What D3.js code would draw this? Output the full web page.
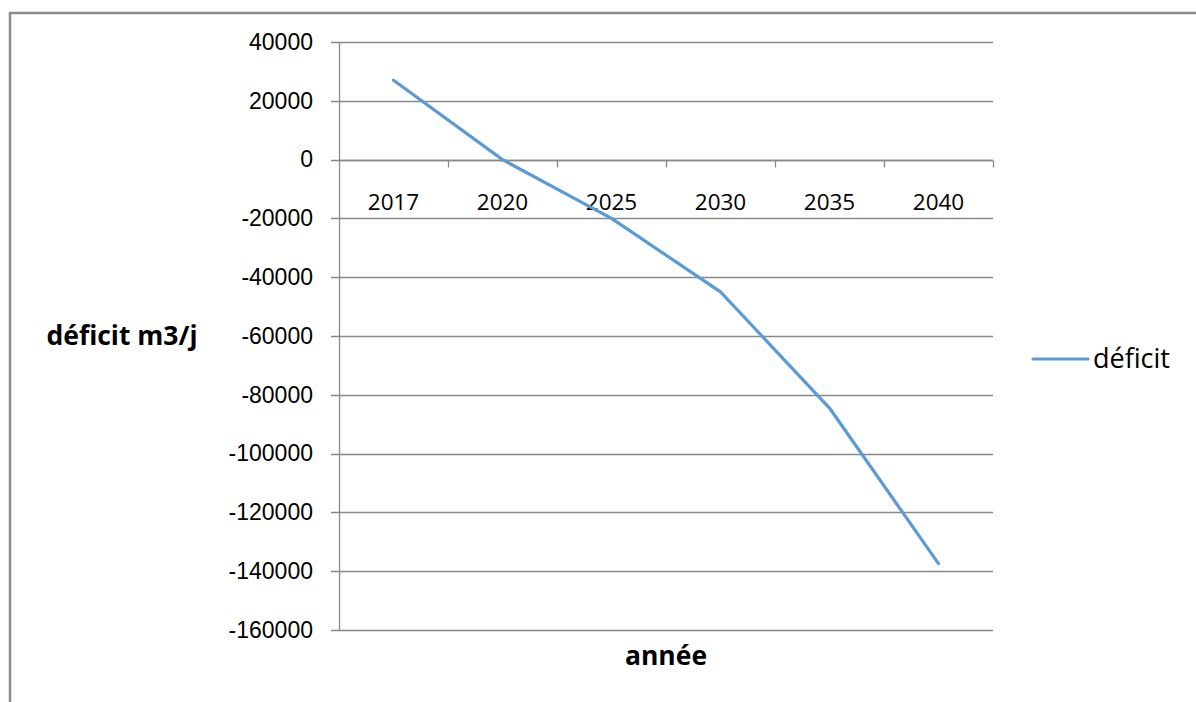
<!DOCTYPE html>
<html>
<head>
<meta charset="utf-8">
<script src="https://cdn.jsdelivr.net/npm/d3@7"></script>
<style>
  body { margin: 0; background: #fff; }
  svg { font-family: "Open Sans", "DejaVu Sans", sans-serif; }
</style>
</head>
<body>
<div id="chart"></div>
<script>
// chart data
const years = ["2017", "2020", "2025", "2030", "2035", "2040"];
const deficit = [27000, 0, -20000, -45000, -84500, -137400];
const yTicks = [40000, 20000, 0, -20000, -40000, -60000, -80000, -100000, -120000, -140000, -160000];
const seriesName = "déficit";

const FRAME_WIDTH = 1196;
const FRAME_HEIGHT = 702;
const MARGINS = {left: 339, right: 203, top: 42, bottom: 72};
const VIS_WIDTH = FRAME_WIDTH - MARGINS.left - MARGINS.right;
const VIS_HEIGHT = FRAME_HEIGHT - MARGINS.top - MARGINS.bottom;

const GRID = "#898989";
const LINE = "#5b9bd5";

const FRAME = d3.select("#chart")
  .append("svg")
    .attr("width", FRAME_WIDTH)
    .attr("height", FRAME_HEIGHT);

// outer chart border (cut off at right and bottom)
FRAME.append("rect")
  .attr("x", 10)
  .attr("y", 13)
  .attr("width", FRAME_WIDTH + 10)
  .attr("height", FRAME_HEIGHT + 10)
  .attr("fill", "none")
  .attr("stroke", "#8c8c8c")
  .attr("stroke-width", 2.5);

const X_SCALE = d3.scaleBand()
  .domain(years)
  .range([0, VIS_WIDTH]);

const Y_SCALE = d3.scaleLinear()
  .domain([-160000, 40000])
  .range([VIS_HEIGHT, 0]);

const plot = FRAME.append("g")
  .attr("transform", "translate(" + MARGINS.left + "," + MARGINS.top + ")");

// horizontal gridlines
plot.append("g")
  .selectAll("line")
  .data(yTicks)
  .join("line")
    .attr("x1", -8)
    .attr("x2", VIS_WIDTH)
    .attr("y1", d => Math.round(Y_SCALE(d)) + 0.5)
    .attr("y2", d => Math.round(Y_SCALE(d)) + 0.5)
    .attr("stroke", GRID)
    .attr("stroke-width", 1.3);

// y axis (plain hyphen for negatives)
const yAxis = plot.append("g")
  .call(d3.axisLeft(Y_SCALE).tickValues(yTicks).tickFormat(d => String(d)).tickSize(0).tickPadding(26));
yAxis.select(".domain").attr("stroke", GRID).attr("stroke-width", 1.3);
yAxis.selectAll("text").attr("font-size", "23px").attr("fill", "#000");

// category axis sitting on the zero line
const xAxis = plot.append("g")
  .attr("transform", "translate(0," + (Math.round(Y_SCALE(0)) + 0.5) + ")");
xAxis.append("line")
  .attr("x1", 0).attr("x2", VIS_WIDTH)
  .attr("stroke", GRID).attr("stroke-width", 1.3);
xAxis.selectAll("line.tick")
  .data(years)
  .join("line")
    .attr("class", "tick")
    .attr("x1", d => Math.round(X_SCALE(d) + X_SCALE.step()) + 0.5)
    .attr("x2", d => Math.round(X_SCALE(d) + X_SCALE.step()) + 0.5)
    .attr("y1", 0).attr("y2", 7)
    .attr("stroke", GRID).attr("stroke-width", 1.3);
xAxis.selectAll("text")
  .data(years)
  .join("text")
    .attr("x", d => X_SCALE(d) + X_SCALE.bandwidth() / 2)
    .attr("y", 49)
    .attr("text-anchor", "middle")
    .attr("font-size", "22.5px")
    .text(d => d);

// series line
const line = d3.line()
  .x((d, i) => X_SCALE(years[i]) + X_SCALE.bandwidth() / 2)
  .y(d => Y_SCALE(d));

plot.append("path")
  .datum(deficit)
  .attr("d", line)
  .attr("fill", "none")
  .attr("stroke", LINE)
  .attr("stroke-width", 3.2)
  .attr("stroke-linejoin", "round")
  .attr("stroke-linecap", "round");

// axis titles
FRAME.append("text")
  .attr("x", 122)
  .attr("y", 345)
  .attr("text-anchor", "middle")
  .attr("font-size", "26.5px")
  .attr("font-weight", "bold")
  .text("déficit m3/j");

FRAME.append("text")
  .attr("x", 666)
  .attr("y", 665)
  .attr("text-anchor", "middle")
  .attr("font-size", "26.5px")
  .attr("font-weight", "bold")
  .text("année");

// legend
const legend = FRAME.append("g")
  .attr("transform", "translate(1033,359)");
legend.append("line")
  .attr("x1", 0).attr("x2", 55)
  .attr("stroke", LINE)
  .attr("stroke-width", 3.2)
  .attr("stroke-linecap", "round");
legend.append("text")
  .attr("x", 60)
  .attr("y", 9)
  .attr("font-size", "27px")
  .text(seriesName);
</script>
</body>
</html>
